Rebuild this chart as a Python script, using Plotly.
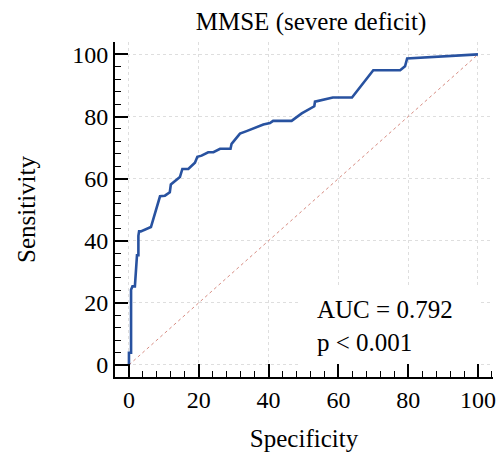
import plotly.graph_objects as go

# ROC curve points (100 - specificity, sensitivity)
fpr = [0, 0, 0.6, 0.6, 1.0, 1.7, 2.3, 2.7, 2.7, 2.9, 3.4, 6.3, 8.9, 10.3, 11.7,
       12.0, 14.6, 15.3, 17.0, 18.9, 19.6, 20.8, 22.7, 24.2, 26.1, 29.1, 29.4,
       31.8, 33.7, 36.1, 38.5, 40.4, 41.3, 46.6, 49.5, 53.1, 53.3, 58.4, 63.9,
       70.0, 77.7, 79.1, 79.7, 100]
sens = [0, 3.9, 3.9, 24.2, 25.3, 25.3, 35.3, 35.3, 41.6, 43.0, 43.0, 44.4, 54.3,
        54.5, 55.6, 58.1, 60.5, 63.1, 63.1, 65.1, 67.0, 67.4, 68.5, 68.5, 69.6,
        69.6, 71.2, 74.5, 75.3, 76.3, 77.4, 77.9, 78.6, 78.6, 81.0, 83.3, 84.8,
        86.1, 86.1, 94.9, 94.9, 96.2, 98.7, 100]
ref_line = [0, 100]
tick_vals = [0, 20, 40, 60, 80, 100]
tick_text = ["0", "20", "40", "60", "80", "100"]
title_text = "MMSE (severe deficit)"
auc_text = "AUC = 0.792"
p_text = "p < 0.001"

FONT = "Liberation Serif, Times New Roman, serif"

fig = go.Figure()
fig.add_trace(go.Scatter(x=ref_line, y=ref_line, mode="lines",
                         line=dict(color="rgb(215,140,130)", width=1, dash="dot"),
                         hoverinfo="skip", showlegend=False))
fig.add_trace(go.Scatter(x=fpr, y=sens, mode="lines",
                         line=dict(color="rgb(40,82,160)", width=2.6),
                         showlegend=False))

axis_common = dict(
    showline=True, linecolor="black", linewidth=2,
    ticks="inside", ticklen=13, tickwidth=1.5, tickcolor="black",
    tickvals=tick_vals, ticktext=tick_text,
    tickfont=dict(family=FONT, size=24, color="black"),
    showgrid=True, gridcolor="rgb(222,222,222)", griddash="dot", gridwidth=1,
    zeroline=False, automargin=False,
    minor=dict(dtick=4, tick0=0, ticks="inside", ticklen=6, tickwidth=1.2,
               tickcolor="black", showgrid=False),
    mirror=False,
)

fig.update_layout(
    width=498, height=452,
    margin=dict(l=115, r=5, t=42, b=75),
    paper_bgcolor="white", plot_bgcolor="white",
    title=dict(text=title_text, x=0.6245, xanchor="center", y=0.953, yanchor="middle",
               yref="container", xref="container",
               font=dict(family=FONT, size=25, color="black")),
    xaxis=dict(range=[-4, 104.3], title=dict(text="Specificity", standoff=20,
               font=dict(family=FONT, size=25, color="black")), **axis_common),
    yaxis=dict(range=[-3.9, 104], title=dict(text="Sensitivity", standoff=29,
               font=dict(family=FONT, size=25, color="black")), **axis_common),
    shapes=[dict(type="rect", xref="x", yref="y", x0=49.0, x1=100.8, y0=-2.5, y1=24.8,
                 fillcolor="white", line=dict(width=0), layer="between")],
    annotations=[
        dict(text=auc_text + "<br>" + p_text, xref="x", yref="y", x=53.4, y=12.6,
             xanchor="left", yanchor="middle", align="left", showarrow=False,
             font=dict(family=FONT, size=25, color="black")),
    ],
)

fig.write_html("out.html", config={"displayModeBar": False},
               post_script="document.body.style.margin='0';document.body.style.padding='0';")
